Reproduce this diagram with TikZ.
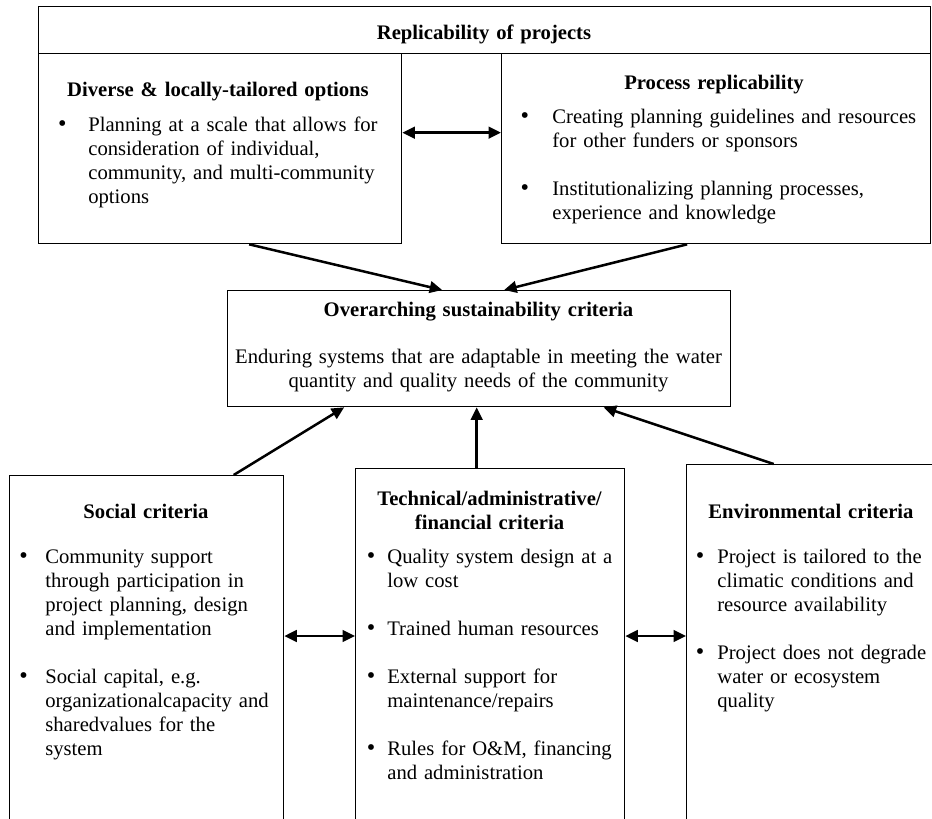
\documentclass[tikz,border=0pt]{standalone}
\usepackage{fontspec}
\setmainfont{Liberation Serif}
\usetikzlibrary{arrows.meta}
\newcommand{\itm}[1][7.2pt]{\leavevmode\llap{{\fontsize{14.5pt}{14.4pt}\selectfont\textbullet}\hspace{#1}}}
\tikzset{
  ar/.style={-{Triangle[length=7.5pt,width=7pt]},line width=1.5pt},
  dar/.style={{Triangle[length=7.5pt,width=7pt]}-{Triangle[length=7.5pt,width=7pt]},line width=1.5pt},
  box/.style={draw,line width=0.8pt,anchor=north west,inner sep=0pt},
  ttl/.style={font=\fontsize{12.4pt}{14.4pt}\selectfont\bfseries,align=center,anchor=base,inner sep=0pt,text width=#1*0.6pt},
  ttl/.default=400,
  ctx/.style={font=\fontsize{12.4pt}{14.4pt}\selectfont,align=center,anchor=base,inner sep=0pt,text width=#1*0.6pt},
  txt/.style={font=\fontsize{12.4pt}{14.4pt}\selectfont,align=left,anchor=base west,inner sep=0pt,text width=#1*0.6pt}
}
\begin{document}
\begin{tikzpicture}[x=0.6pt,y=-0.6pt]
\useasboundingbox (0,0) rectangle (932,819);
\clip (0,0) rectangle (932,819);
\node[box,minimum width=892*0.6pt,minimum height=47*0.6pt] (rep) at (38,6) {};
\node[box,minimum width=363*0.6pt,minimum height=190*0.6pt] (div) at (38,53) {};
\node[box,minimum width=429*0.6pt,minimum height=190*0.6pt] (proc) at (501,53) {};
\node[box,minimum width=503*0.6pt,minimum height=116*0.6pt] (ovr) at (227,290) {};
\node[box,minimum width=274*0.6pt,minimum height=400*0.6pt] (soc) at (9,475) {};
\node[box,minimum width=269*0.6pt,minimum height=400*0.6pt] (tech) at (355,468) {};
\node[box,minimum width=250*0.6pt,minimum height=400*0.6pt] (env) at (686,464) {};

\node[ttl] (reptl) at (484,39) {Replicability of projects};
\node[ttl] (divtl) at (218,96) {Diverse \& locally-tailored options};
\node[txt=300] (divtx) at (88,131) {\itm[13pt]Planning at a scale that allows for\\ consideration of individual,\\ community, and multi-community\\ options};
\node[ttl] (proctl) at (714,89) {Process replicability};
\node[txt=370] (proctx) at (552,123) {\itm[14pt]Creating planning guidelines and resources\\ for other funders or sponsors\\[14.4pt] \itm[14pt]Institutionalizing planning processes,\\ experience and knowledge};
\node[ttl] (ovrtl) at (478.5,316) {Overarching sustainability criteria};
\node[ctx=500] (ovrtx) at (478.5,363) {Enduring systems that are adaptable in meeting the water\\ quantity and quality needs of the community};
\node[ttl] (soctl) at (146,518) {Social criteria};
\node[txt=240] (soctx) at (45,563) {\itm[10.5pt]Community support\\ through participation in\\ project planning, design\\ and implementation\\[14.4pt] \itm[10.5pt]Social capital, e.g.\\ organizationalcapacity and\\ sharedvalues for the\\ system};
\node[ttl] (techtl) at (489.5,505) {Technical/administrative/\\ financial criteria};
\node[txt=240] (techtx) at (387,563) {\itm Quality system design at a\\ low cost\\[14.4pt] \itm Trained human resources\\[14.4pt] \itm External support for\\ maintenance/repairs\\[14.4pt] \itm Rules for O\&M, financing\\ and administration};
\node[ttl] (envtl) at (811,518) {Environmental criteria};
\node[txt=220] (envtx) at (717,563) {\itm[7.8pt]Project is tailored to the\\ climatic conditions and\\ resource availability\\[14.4pt] \itm[7.8pt]Project does not degrade\\ water or ecosystem\\ quality};

\draw[dar] ([shift={(0,-16)}]div.east) -- ([shift={(0,-16)}]proc.west);
\draw[ar] ([shift={(29,0)}]div.south) -- ([shift={(-37,0)}]ovr.north);
\draw[ar] ([shift={(-29,0)}]proc.south) -- ([shift={(25,0)}]ovr.north);
\draw[ar] ([shift={(87,0)}]soc.north) -- ([shift={(-135,0)}]ovr.south);
\draw[ar] ([shift={(-13.5,0)}]tech.north) -- ([shift={(-2.5,0)}]ovr.south);
\draw[ar] ([shift={(-38,0)}]env.north) -- ([shift={(124.5,0)}]ovr.south);
\draw[dar] ([shift={(0,161)}]soc.north east) -- ([shift={(0,168)}]tech.north west);
\draw[dar] ([shift={(0,168)}]tech.north east) -- ([shift={(0,172)}]env.north west);
\end{tikzpicture}
\end{document}
